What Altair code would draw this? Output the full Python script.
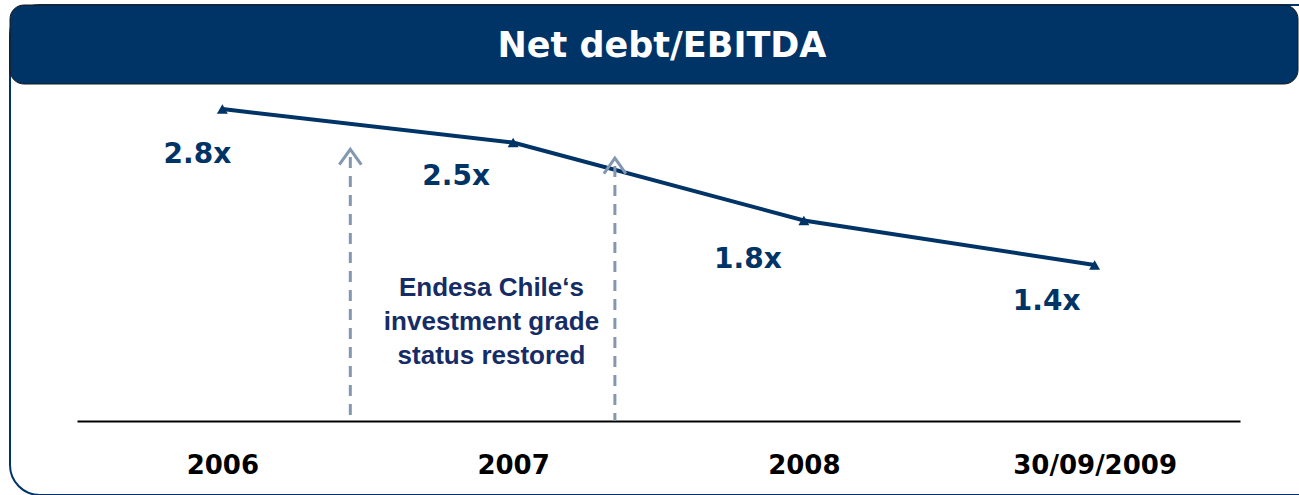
import altair as alt
import pandas as pd

# ---- data ----
categories = ["2006", "2007", "2008", "30/09/2009"]
values = [2.8, 2.5, 1.8, 1.4]
value_labels = ["2.8x", "2.5x", "1.8x", "1.4x"]

arrow_x = [0.44, 1.35]          # positions between categories
arrow_top = [2.37, 2.29]        # top of dashed arrows (ratio units)

note_text = "Endesa Chile\u2018s\ninvestment grade\nstatus restored"
title_text = "Net debt/EBITDA"

NAVY = "#003366"

df = pd.DataFrame({"idx": list(range(len(categories))), "cat": categories,
                   "value": values, "label": value_labels})
arrows = pd.DataFrame({"x": arrow_x, "top": arrow_top,
                       "base": [0.0] * len(arrow_x)})
one = pd.DataFrame({"k": [0]})

xscale = alt.Scale(domain=[-0.5, 3.5], nice=False, zero=False)
yscale = alt.Scale(domain=[0, 421 / 111.4], nice=False, zero=False)

label_expr = "[" + ",".join("'" + c + "'" for c in categories) + "][datum.value]"
xaxis = alt.Axis(values=list(range(len(categories))), labelExpr=label_expr,
                 title=None, grid=False, ticks=False, domainColor="#000000",
                 domainWidth=2, labelFont="DejaVu Sans", labelFontWeight="bold",
                 labelFontSize=26, labelColor="#000000", labelPadding=44,
                 labelBaseline="middle")

def X(f):
    return alt.X(f, scale=xscale, axis=xaxis)

def Y(f):
    return alt.Y(f, scale=yscale, axis=None)

base = alt.Chart(df)
line = base.mark_line(color=NAVY, strokeWidth=4).encode(
    x=X("idx:Q"), y=Y("value:Q"))
pts = base.mark_point(shape="triangle-up", filled=True, color=NAVY, size=120,
                      opacity=1).encode(x=X("idx:Q"), y=Y("value:Q"))

offsets = [(-25, 46), (-57, 34), (-56, 40), (-48, 37)]
label_layers = []
for i, (dx, dy) in enumerate(offsets):
    label_layers.append(
        base.transform_filter(alt.datum.idx == i).mark_text(
            font="DejaVu Sans", fontWeight="bold", fontSize=28, color=NAVY,
            align="center", baseline="middle", dx=dx, dy=dy).encode(
            x=X("idx:Q"), y=Y("value:Q"), text="label:N"))

arr = alt.Chart(arrows)
rules = arr.mark_rule(color="#8497b0", strokeWidth=3, strokeDash=[11, 8]).encode(
    x=X("x:Q"), y=Y("top:Q"), y2="base:Q")
heads = arr.mark_point(shape="M -1 0.7 L 0 -0.7 L 1 0.7", filled=False,
                       color="#8497b0", strokeWidth=3, size=484, opacity=1).encode(
    x=X("x:Q"), y=Y("top:Q"))

# frame: left edge and bottom-left corner visible, right edge off the page
frame = alt.Chart(one).mark_rect(fill="transparent", stroke=NAVY, strokeWidth=2,
                                 cornerRadius=30).encode(
    x=alt.value(-67), x2=alt.value(1300), y=alt.value(5), y2=alt.value(495))
header = alt.Chart(one).mark_rect(fill=NAVY, stroke="#1a1a1a", strokeWidth=1,
                                  cornerRadius=14).encode(
    x=alt.value(-67), x2=alt.value(1221), y=alt.value(5), y2=alt.value(84))
title = alt.Chart(one).mark_text(text=title_text, font="DejaVu Sans",
                                 fontWeight="bold", fontSize=35, color="white",
                                 align="center", baseline="middle").encode(
    x=alt.value(585), y=alt.value(46))
note = alt.Chart(one).mark_text(text=note_text, lineBreak="\n", lineHeight=34,
                                font="Liberation Sans", fontWeight="bold",
                                fontSize=26, color="#162c66", align="center",
                                baseline="middle").encode(
    x=alt.value(414.5), y=alt.value(288))

chart = alt.layer(line, pts, frame, header, title, rules, heads, *label_layers,
                  note).properties(
    width=1163, height=421,
    padding={"left": 77, "right": 59, "top": 0, "bottom": 74},
    autosize=alt.AutoSizeParams(type="none"),
    background="white",
).configure_view(stroke=None)

chart.save("out.html", embed_options={"renderer": "svg", "actions": False})
